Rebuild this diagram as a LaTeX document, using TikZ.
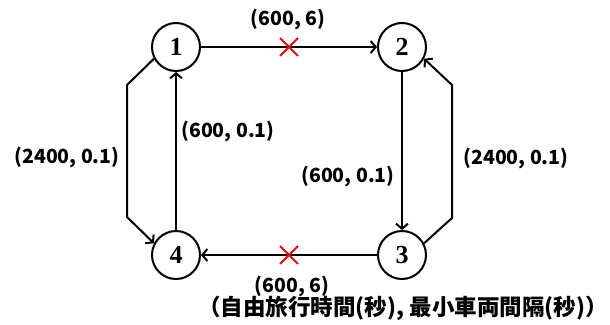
\documentclass[tikz,border=0pt]{standalone}
\usepackage{fontspec}
\setmainfont{Liberation Serif}
\newfontfamily\jp{Noto Sans CJK JP}
\usetikzlibrary{arrows.meta}
\tikzset{
  vertex/.style={circle,draw,line width=2pt,minimum size=48pt,inner sep=0pt,font=\fontsize{26}{26}\selectfont\bfseries},
  edge/.style={line width=2pt,-{Straight Barb[length=5pt,width=12pt,line width=2pt]}},
  lab/.style={font=\jp\fontsize{19.5}{19.5}\selectfont\bfseries,inner sep=0pt},
  legend/.style={font=\jp\fontsize{22.5}{22.5}\selectfont\bfseries,inner sep=0pt},
  cross/.style={red,line width=2pt}
}
\begin{document}
\begin{tikzpicture}[x=1pt,y=-1pt]
\useasboundingbox (0,0) rectangle (610,324);
\node[vertex] (n1) at (176,47) {1};
\node[vertex] (n2) at (402,47) {2};
\node[vertex] (n3) at (402,255) {3};
\node[vertex] (n4) at (176,255) {4};
\coordinate (a1) at (127,85);
\coordinate (a2) at (127,217);
\coordinate (b1) at (452,218);
\coordinate (b2) at (452,85);
\draw[edge] (n1) -- (n2);
\draw[edge] (n2) -- (n3);
\draw[edge] (n3) -- (n4);
\draw[edge] (n4) -- (n1);
\draw[edge] (n1.208) -- (a1) -- (a2) -- (n4.152);
\draw[edge] (n3.28) -- (b1) -- (b2) -- (n2.332);
\coordinate (x1) at (289,47);
\coordinate (x2) at (289,255);
\draw[cross] ([shift={(-9,-9)}]x1) -- ([shift={(9,9)}]x1);
\draw[cross] ([shift={(-9,9)}]x1) -- ([shift={(9,-9)}]x1);
\draw[cross] ([shift={(-9,-9)}]x2) -- ([shift={(9,9)}]x2);
\draw[cross] ([shift={(-9,9)}]x2) -- ([shift={(9,-9)}]x2);
\node[lab] (t12) at (288,20) {(600, 6)};
\node[lab] (t14) at (67,158) {(2400, 0.1)};
\node[lab] (t41) at (228,132) {(600, 0.1)};
\node[lab] (t23) at (348,177) {(600, 0.1)};
\node[lab] (t32) at (516,159) {(2400, 0.1)};
\node[lab] (t34) at (292,287) {(600, 6)};
\node[legend] (leg) at (403,308) {（自由旅行時間(秒), 最小車両間隔(秒)）};
\end{tikzpicture}
\end{document}
